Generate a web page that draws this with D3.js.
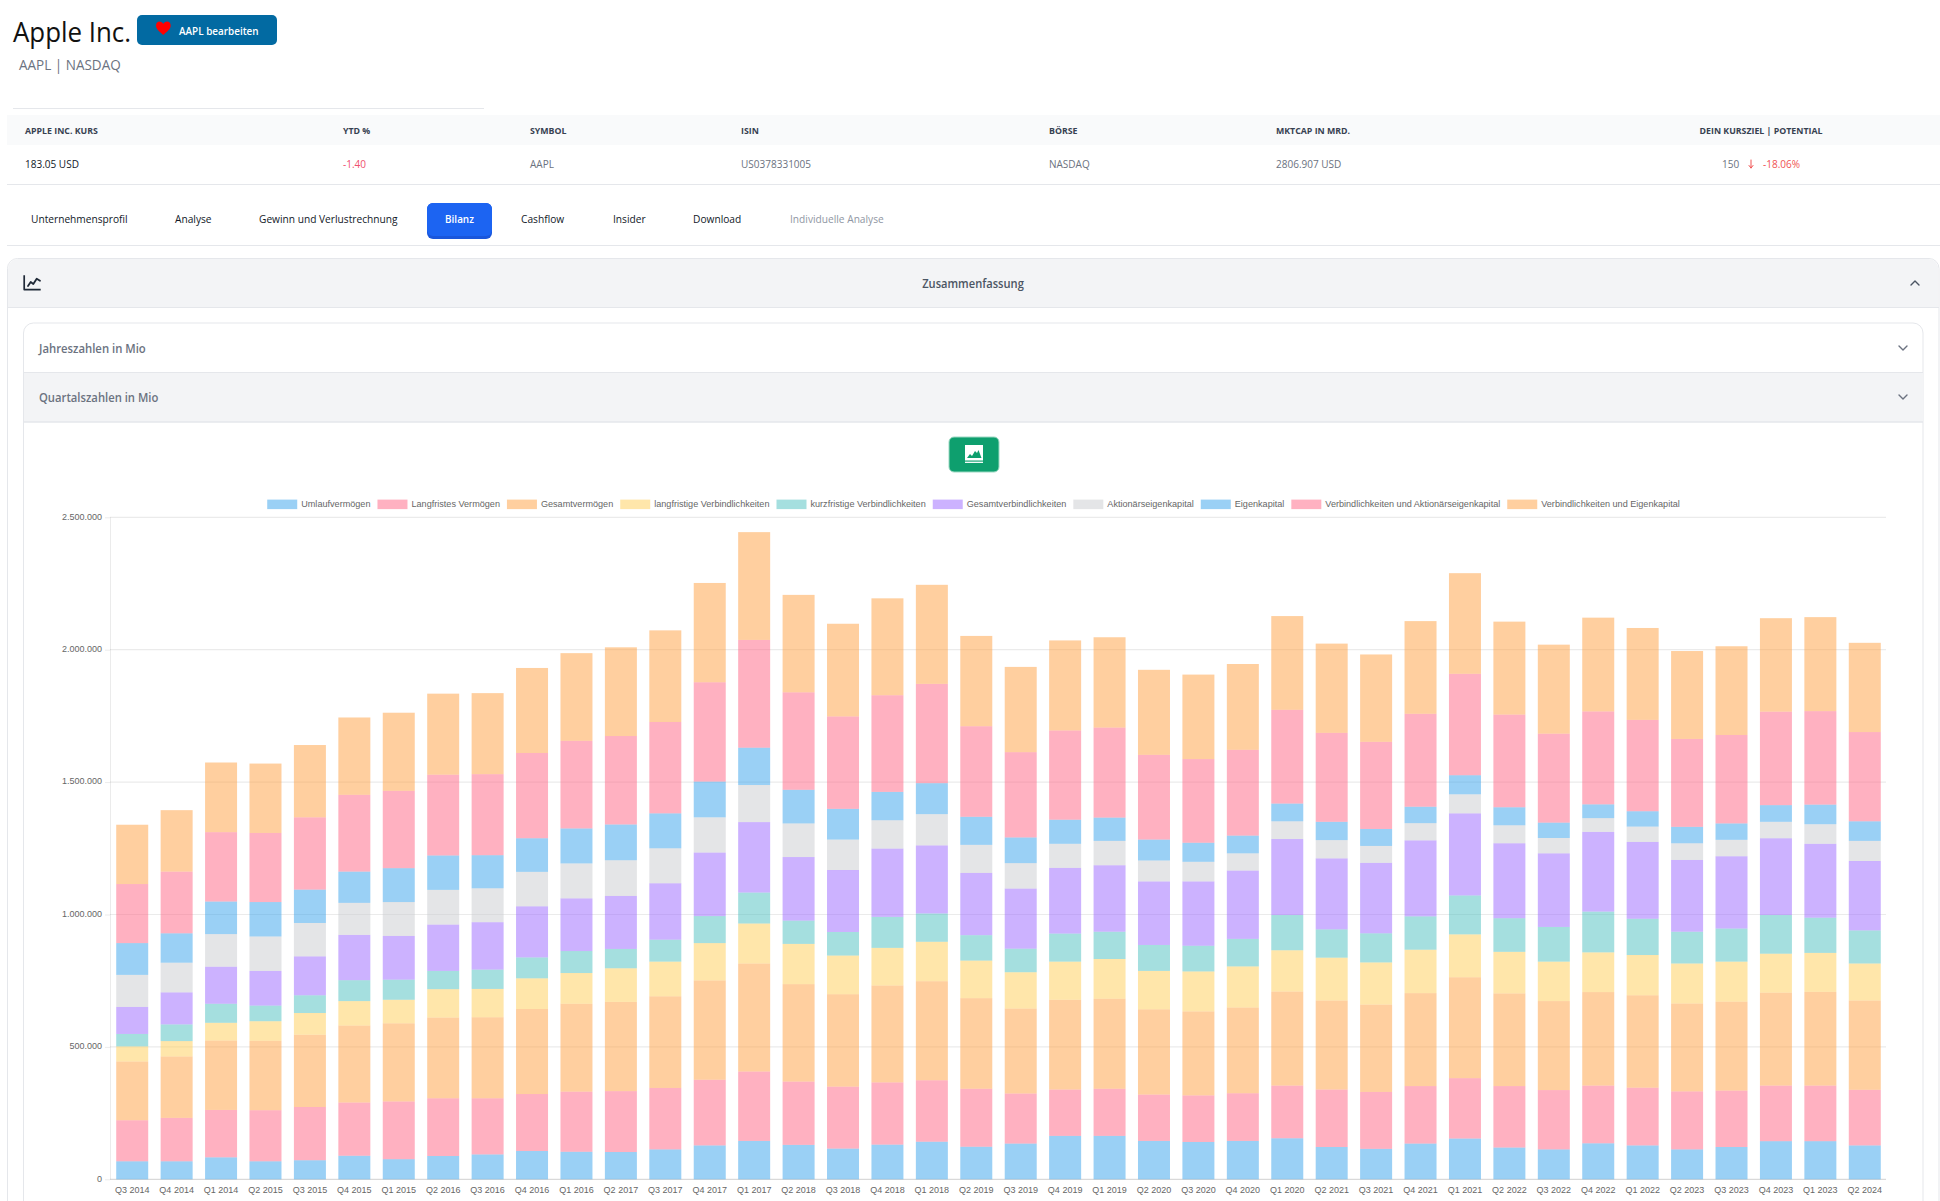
<!DOCTYPE html>
<html lang="de"><head><meta charset="utf-8"><title>Apple Inc.</title>
<script src="https://cdn.jsdelivr.net/npm/d3@7/dist/d3.min.js"></script>
<style>html,body{margin:0;padding:0;background:#fff;overflow:hidden}svg{display:block}</style></head>
<body><svg id="c" width="1940" height="1201" xmlns="http://www.w3.org/2000/svg"></svg>
<script>
const quarters=["Q3 2014","Q4 2014","Q1 2014","Q2 2015","Q3 2015","Q4 2015","Q1 2015","Q2 2016","Q3 2016","Q4 2016","Q1 2016","Q2 2017","Q3 2017","Q4 2017","Q1 2017","Q2 2018","Q3 2018","Q4 2018","Q1 2018","Q2 2019","Q3 2019","Q4 2019","Q1 2019","Q2 2020","Q3 2020","Q4 2020","Q1 2020","Q2 2021","Q3 2021","Q4 2021","Q1 2021","Q2 2022","Q3 2022","Q4 2022","Q1 2022","Q2 2023","Q3 2023","Q4 2023","Q1 2023","Q2 2024"];
const yTicks=[0,500000,1000000,1500000,2000000,2500000];
const seriesNames=["Umlaufvermögen","Langfristes Vermögen","Gesamtvermögen","langfristige Verbindlichkeiten","kurzfristige Verbindlichkeiten","Gesamtverbindlichkeiten","Aktionärseigenkapital","Eigenkapital","Verbindlichkeiten und Aktionärseigenkapital","Verbindlichkeiten und Eigenkapital"];
const seriesColors=["rgb(54,162,235)","rgb(255,99,132)","rgb(255,159,64)","rgb(255,205,86)","rgb(75,192,192)","rgb(153,102,255)","rgb(201,203,207)","rgb(54,162,235)","rgb(255,99,132)","rgb(255,159,64)"];
// Werte in Mrd. (Achse in Mio.)
const umlaufvermoegen=[68,68,83,68,72,89,76,88,94,107,104,103,113,128,145,130,116,131,142,123,135,164,164,145,141,145,155,122,115,135,154,120,113,136,128,113,122,144,144,128];
const langfristesVermoegen=[155,164,179,193,201,201,218,218,212,215,227,230,232,248,262,239,234,235,232,219,189,175,178,175,176,180,199,217,215,217,228,232,224,218,218,219,213,210,210,210];
const gesamtvermoegen=[222,232,262,262,273,291,295,305,306,321,332,337,346,375,408,368,349,366,374,342,321,339,340,322,317,324,355,336,330,351,381,350,336,353,349,332,336,351,354,337];
const langfristigeVerb=[57,58,67,74,82,92,89,107,107,116,116,127,131,141,151,152,146,142,149,142,137,144,150,145,151,155,156,162,159,164,162,157,149,150,152,151,151,147,147,140];
const kurzfristigeVerb=[47,63,72,59,67,79,76,69,73,79,83,73,83,102,117,88,89,117,107,96,89,106,103,98,97,104,133,107,110,126,147,127,131,154,137,120,125,146,133,125];
const gesamtverb=[102,121,140,131,147,171,165,175,179,193,199,200,213,240,266,240,234,258,257,235,227,248,251,240,243,258,287,268,266,287,310,283,278,301,290,271,273,290,279,262];
const aktionaerseigenkapital=[121,112,123,130,126,121,128,131,128,130,132,135,132,133,140,127,115,107,118,106,96,91,92,79,74,65,67,69,64,65,72,68,58,52,58,63,62,62,74,76];
const eigenkapital=[120,111,123,130,126,118,128,130,125,127,132,135,132,135,141,127,116,107,117,106,97,91,88,79,72,67,67,69,64,62,72,68,58,52,58,62,62,63,74,74];
const verbUndAktionaer=[223,233,262,261,273,290,292,305,306,322,331,334,345,375,407,368,349,365,375,342,322,337,340,320,316,324,354,336,329,351,383,350,336,351,345,332,334,353,353,337];
const verbUndEigen=[224,232,263,262,273,292,295,306,306,321,331,335,346,375,407,368,350,366,374,341,322,340,341,321,319,324,354,337,330,350,380,351,336,354,347,332,335,353,355,337];
const seriesValues=[umlaufvermoegen,langfristesVermoegen,gesamtvermoegen,langfristigeVerb,kurzfristigeVerb,gesamtverb,aktionaerseigenkapital,eigenkapital,verbUndAktionaer,verbUndEigen];
const MIO_JE_MRD=1000;

const tableHead=[["APPLE INC. KURS",25],["YTD %",343],["SYMBOL",530],["ISIN",741],["BÖRSE",1049],["MKTCAP IN MRD.",1276]];
const tableRow=[["183.05 USD",25,"#111827"],["-1.40",343,"#f0506e"],["AAPL",530,"#6b7280"],["US0378331005",741,"#6b7280"],["NASDAQ",1049,"#6b7280"],["2806.907 USD",1276,"#6b7280"],["150",1722,"#6b7280"],["-18.06%",1763,"#f05252"]];
const tabs=[["Unternehmensprofil",31,"#111827"],["Analyse",175,"#111827"],["Gewinn und Verlustrechnung",259,"#111827"],["Cashflow",521,"#111827"],["Insider",613,"#111827"],["Download",693,"#111827"],["Individuelle Analyse",790,"#8f96a3"]];

const UI="'Open Sans',sans-serif", CH="'Liberation Sans',Arial,sans-serif";
const svg=d3.select("#c");
function T(s,x,y,o={}){const t=svg.append("text").text(s).attr("x",x).attr("y",y).attr("dominant-baseline","central")
 .attr("font-family",o.f||UI).attr("font-size",o.s||11).attr("font-weight",o.w||400).attr("fill",o.c||"#6b7280").attr("text-anchor",o.a||"start");
 const len=t.node().getComputedTextLength();
 t.attr("textLength",o.tl||len*(o.k||.925)).attr("lengthAdjust","spacingAndGlyphs");return t;}
function R(x,y,w,h,c,o={}){return svg.append("rect").attr("x",x).attr("y",y).attr("width",w).attr("height",h).attr("fill",c).attr("rx",o.r||0).attr("stroke",o.st||"none");}
function L(x1,y1,x2,y2,c,w=1){return svg.append("line").attr("x1",x1).attr("y1",y1).attr("x2",x2).attr("y2",y2).attr("stroke",c).attr("stroke-width",w);}
function P(d,o={}){return svg.append("path").attr("d",d).attr("fill",o.fill||"none").attr("stroke",o.st||"none").attr("stroke-width",o.w||1).attr("stroke-linecap",o.cap||"round").attr("stroke-linejoin","round");}

// Kopf
T("Apple Inc.",13,31,{s:28,c:"#111",tl:118});
R(137,15,140,30,"#026aa2",{r:5});
P("M163.3 35 C159.5 31.5 156 29 156 25.7 C156 20.5 161.8 20.5 163.3 24 C164.8 20.5 170.7 20.5 170.7 25.7 C170.7 29 167 31.5 163.3 35Z",{fill:"#f00"});
T("AAPL bearbeiten",179,30,{s:11,c:"#fff",w:600,k:.9});
T("AAPL | NASDAQ",19,64.5,{s:14,c:"#6b7280",k:.965});
L(13,108.5,484,108.5,"#e5e7eb");
R(7,115,1933,30,"#f9fafb");
tableHead.forEach(d=>T(d[0],d[1],130.5,{s:9.5,w:700,c:"#374151"}));
T("DEIN KURSZIEL | POTENTIAL",1761,130.5,{s:9.5,w:700,c:"#374151",a:"middle"});
tableRow.forEach(d=>T(d[0],d[1],163.3,{s:11,c:d[2],k:.91}));
P("M1751 160V168M1749 165.5L1751 168L1753 165.5",{st:"#f05252",w:1});
L(7,184.5,1940,184.5,"#e5e7eb");
// Tabs
tabs.forEach(d=>T(d[0],d[1],218.3,{s:11,c:d[2]}));
R(427,203,65,36,"#1a56db",{r:6});
R(427,203,65,33,"#1c64f2",{r:6});
T("Bilanz",459.5,218.3,{s:11,c:"#fff",w:600,a:"middle",k:.9});
L(7,245.5,1940,245.5,"#e5e7eb");
// Akkordeon
P("M7.5 1201V268.5a10 10 0 0 1 10-10H1929a10 10 0 0 1 10 10V1201",{st:"#e5e7eb"});
P("M8 307V269a10 10 0 0 1 10-10H1928.5a10 10 0 0 1 10 10V307Z",{fill:"#f3f4f6"});
L(7,307.5,1939,307.5,"#e5e7eb");
P("M24.2 275.3V289.6H40.7",{st:"#1f2937",w:1.7,cap:"butt"});
P("M28 286L30.7 282L33.3 284L36.7 278.7L40 280.7",{st:"#1f2937",w:1.8});
T("Zusammenfassung",973,283.7,{s:12.5,w:600,c:"#4b5563",a:"middle",k:.89});
P("M1911 285L1915 281L1919 285",{st:"#4b5563",w:1.4});
P("M23.5 1201V333a10 10 0 0 1 10-10H1913a10 10 0 0 1 10 10V1201",{st:"#e5e7eb"});
T("Jahreszahlen in Mio",39,348.4,{s:12.5,w:600,c:"#6b7280",k:.905});
P("M1899 346L1903 350L1907 346",{st:"#6b7280",w:1.4});
R(24,373,1899,49,"#f3f4f6");
L(23,372.5,1923,372.5,"#e5e7eb");
L(23,422,1923,422,"#e5e7eb",1.5);
T("Quartalszahlen in Mio",39,397.4,{s:12.5,w:600,c:"#6b7280",k:.9});
P("M1899 395L1903 399L1907 395",{st:"#6b7280",w:1.4});
// Bildknopf
R(949,437,50,35,"#0e9f6e",{r:5,st:"#9bd8c2"});
R(965,445,18,15.5,"#fff");
P("M967 458L970 454L972 456L975 451L977 453L978.5 450L981.5 458Z",{fill:"#0e9f6e"});
L(965,462.3,983,462.3,"#fff",1.3);

// Diagramm
const x=d3.scaleBand().domain(quarters).range([110,1887]).paddingInner(.28).paddingOuter(.14);
const y=d3.scaleLinear().domain([0,2500000]).range([1179.3,517.3]);
const gridColor="rgba(0,0,0,.08)";
const gy=svg.append("g").attr("transform","translate(110,0)").call(d3.axisLeft(y).tickValues(yTicks).tickSize(5).tickPadding(3)
 .tickFormat(d3.formatLocale({decimal:",",thousands:".",grouping:[3],currency:["","€"]}).format(",d")));
gy.selectAll("text").attr("font-family",CH).attr("font-size",9).attr("fill","#666").attr("y",-1);
gy.selectAll("line").attr("stroke",gridColor);
gy.select(".domain").attr("stroke",gridColor).attr("d","M0.5,"+y(2500000)+"V"+y(0));
svg.append("g").selectAll("line").data(yTicks).join("line").attr("x1",110).attr("x2",1886)
 .attr("y1",d=>y(d)).attr("y2",d=>y(d)).attr("stroke",d=>d===0?"rgba(0,0,0,.15)":gridColor).attr("stroke-width",1.2);
const rows=quarters.map((q,i)=>{const r={q};seriesNames.forEach((n,j)=>r[n]=seriesValues[j][i]*MIO_JE_MRD);return r;});
const stacked=d3.stack().keys(seriesNames)(rows);
svg.append("g").selectAll("g").data(stacked).join("g").attr("fill",(d,i)=>seriesColors[i]).attr("fill-opacity",.5)
 .selectAll("rect").data(d=>d).join("rect").attr("x",d=>x(d.data.q)).attr("width",x.bandwidth())
 .attr("y",d=>y(d[1])).attr("height",d=>y(d[0])-y(d[1]));
const gx=svg.append("g").attr("transform","translate(0,1179.3)").call(d3.axisBottom(x).tickSize(0).tickPadding(7.5));
gx.select(".domain").remove();
gx.selectAll("text").attr("font-family",CH).attr("font-size",9).attr("fill","#666");
// Legende
const lg=svg.append("g");
let cx=0;
seriesNames.forEach((n,i)=>{const g=lg.append("g").attr("transform","translate("+cx+",0)");
 g.append("rect").attr("width",30).attr("height",9.5).attr("y",-4.4).attr("fill",seriesColors[i]).attr("fill-opacity",.5);
 const t=g.append("text").text(n).attr("x",34).attr("dominant-baseline","central").attr("font-family",CH).attr("font-size",9.1).attr("fill","#666");
 cx+=34+t.node().getComputedTextLength()+7;});
lg.attr("transform","translate("+(973.5-(cx-7)/2)+",504)");
</script></body></html>
